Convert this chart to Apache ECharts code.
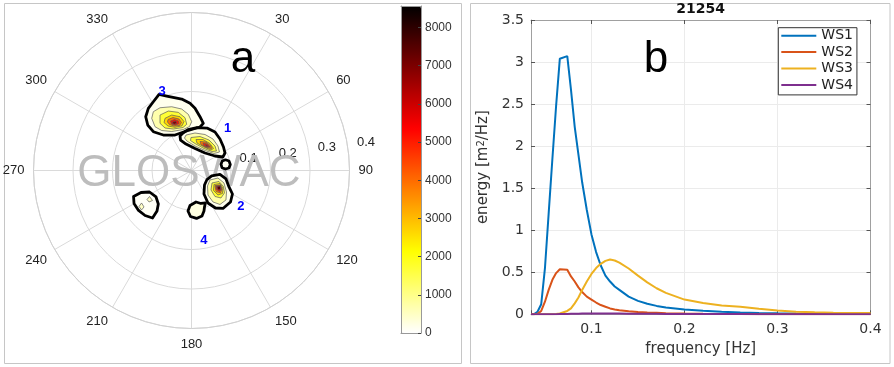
<!DOCTYPE html>
<html><head><meta charset="utf-8">
<script src="https://cdn.jsdelivr.net/npm/echarts@6/dist/echarts.min.js"></script>
<style>html,body{margin:0;padding:0;background:#fff}#c{width:894px;height:367px}</style>
</head><body><div id="c"></div>
<script>
// ---------- panel b : 1-D spectra ----------
const freq = [0.035,0.038,0.042,0.046,0.05,0.054,0.058,0.062,0.066,0.074,0.078,0.082,0.086,0.09,0.095,0.1,0.105,0.11,0.115,0.12,0.125,0.13,0.14,0.15,0.16,0.17,0.18,0.2,0.22,0.24,0.26,0.28,0.3,0.32,0.34,0.36,0.38,0.4];
const ws1 = [0,0,0.03,0.12,0.55,1.2,1.85,2.48,3.04,3.07,2.67,2.23,1.9,1.57,1.24,0.95,0.74,0.58,0.46,0.39,0.33,0.29,0.21,0.16,0.125,0.10,0.08,0.058,0.041,0.03,0.022,0.016,0.012,0.009,0.007,0.005,0.004,0.003];
const ws2 = [0,0,0.005,0.04,0.15,0.29,0.41,0.49,0.535,0.53,0.45,0.39,0.32,0.265,0.21,0.175,0.14,0.11,0.09,0.07,0.058,0.048,0.035,0.027,0.021,0.017,0.013,0.009,0.006,0.004,0.003,0.002,0.002,0.001,0.001,0.001,0.001,0.001];
const ws3 = [0,0,0,0,0,0,0,0.003,0.01,0.04,0.07,0.13,0.2,0.29,0.39,0.48,0.55,0.6,0.635,0.652,0.64,0.615,0.545,0.46,0.38,0.31,0.255,0.175,0.135,0.105,0.09,0.066,0.046,0.031,0.024,0.019,0.016,0.014];
const ws4 = [0,0,0,0,0,0,0.001,0.002,0.003,0.005,0.006,0.007,0.008,0.009,0.01,0.011,0.011,0.011,0.01,0.01,0.009,0.009,0.008,0.007,0.006,0.006,0.005,0.004,0.004,0.003,0.003,0.002,0.002,0.002,0.002,0.001,0.001,0.001];
const seriesNames = ['WS1','WS2','WS3','WS4'];
const seriesColors = ['#0072BD','#D95319','#EDB120','#7E2F8E'];
const buoyId = '21254';

// ---------- panel a : directional spectrum contours (east, north frequency components, Hz) ----------
const sys3Outer = [[-0.0822,0.1928],[-0.0627,0.1885],[-0.0248,0.1809],[-0.0038,0.1700],[0.0089,0.1574],[0.0215,0.1361],[0.0299,0.1194],[0.0215,0.1101],[-0.0038,0.1025],[-0.0164,0.0987],[-0.0417,0.0898],[-0.0713,0.0898],[-0.0966,0.0982],[-0.1108,0.1151],[-0.1159,0.1361],[-0.1093,0.1574],[-0.0966,0.1741]];
const sys3A = [[-0.0966,0.1488],[-0.0797,0.1589],[-0.0501,0.1614],[-0.0248,0.1556],[-0.0081,0.1422],[0.0005,0.1235],[-0.0051,0.1113],[-0.0207,0.1037],[-0.0501,0.0987],[-0.0754,0.1012],[-0.0923,0.1108],[-0.1007,0.1321]];
const sys3B = [[-0.0797,0.1404],[-0.0587,0.1505],[-0.0334,0.1472],[-0.0164,0.1336],[-0.0121,0.1169],[-0.0215,0.1088],[-0.0460,0.1050],[-0.0670,0.1075],[-0.0797,0.1194]];
const sys3C = [[-0.0670,0.1321],[-0.0501,0.1404],[-0.0291,0.1361],[-0.0190,0.1240],[-0.0240,0.1131],[-0.0417,0.1093],[-0.0595,0.1126],[-0.0696,0.1214]];
const sys3D = [[-0.0595,0.1290],[-0.0468,0.1341],[-0.0316,0.1303],[-0.0253,0.1214],[-0.0304,0.1139],[-0.0443,0.1126],[-0.0557,0.1164],[-0.0607,0.1227]];
const sys3E = [[-0.0531,0.1252],[-0.0430,0.1290],[-0.0329,0.1252],[-0.0316,0.1189],[-0.0405,0.1151],[-0.0506,0.1176]];
const sys3F = [[-0.0481,0.1227],[-0.0405,0.1252],[-0.0367,0.1202],[-0.0430,0.1171],[-0.0481,0.1189]];

const sys1Outer = [[-0.0215,0.0949],[-0.0089,0.1037],[0.0139,0.1088],[0.0392,0.1075],[0.0595,0.0974],[0.0721,0.0797],[0.0810,0.0595],[0.0848,0.0443],[0.0797,0.0342],[0.0595,0.0367],[0.0342,0.0443],[0.0089,0.0557],[-0.0139,0.0670],[-0.0278,0.0772],[-0.0291,0.0873]];
const sys1A = [[-0.0139,0.0898],[0.0089,0.0949],[0.0342,0.0911],[0.0544,0.0797],[0.0670,0.0620],[0.0708,0.0468],[0.0569,0.0430],[0.0342,0.0506],[0.0089,0.0620],[-0.0114,0.0746],[-0.0177,0.0822]];
const sys1B = [[-0.0013,0.0835],[0.0215,0.0860],[0.0443,0.0772],[0.0595,0.0620],[0.0633,0.0493],[0.0519,0.0481],[0.0316,0.0557],[0.0089,0.0683],[-0.0025,0.0759]];
const sys1C = [[0.0114,0.0784],[0.0291,0.0784],[0.0468,0.0683],[0.0557,0.0557],[0.0493,0.0519],[0.0316,0.0595],[0.0139,0.0696]];
const sys1D = [[0.0215,0.0734],[0.0367,0.0721],[0.0493,0.0620],[0.0506,0.0557],[0.0367,0.0582],[0.0240,0.0658]];
const sys1E = [[0.0291,0.0696],[0.0405,0.0670],[0.0468,0.0595],[0.0380,0.0595],[0.0304,0.0633]];
const sys1F = [[0.0354,0.0658],[0.0417,0.0633],[0.0430,0.0600],[0.0367,0.0607]];

const sys2Outer = [[0.0511,-0.0139],[0.0721,-0.0101],[0.0873,-0.0215],[0.0949,-0.0417],[0.1037,-0.0595],[0.0987,-0.0797],[0.0797,-0.0961],[0.0607,-0.0949],[0.0417,-0.0822],[0.0316,-0.0595],[0.0329,-0.0367],[0.0392,-0.0228]];
const sys2A = [[0.0468,-0.0240],[0.0670,-0.0190],[0.0822,-0.0316],[0.0886,-0.0544],[0.0873,-0.0746],[0.0721,-0.0860],[0.0544,-0.0797],[0.0417,-0.0620],[0.0405,-0.0392]];
const sys2B = [[0.0519,-0.0316],[0.0696,-0.0278],[0.0810,-0.0405],[0.0835,-0.0569],[0.0746,-0.0696],[0.0595,-0.0658],[0.0493,-0.0493]];
const sys2C = [[0.0569,-0.0354],[0.0721,-0.0329],[0.0797,-0.0443],[0.0784,-0.0582],[0.0670,-0.0620],[0.0557,-0.0506]];
const sys2D = [[0.0595,-0.0380],[0.0734,-0.0367],[0.0772,-0.0481],[0.0734,-0.0569],[0.0620,-0.0531]];
const sys2E = [[0.0620,-0.0392],[0.0734,-0.0380],[0.0759,-0.0481],[0.0708,-0.0531],[0.0633,-0.0481]];
const sys2F = [[0.0645,-0.0405],[0.0734,-0.0392],[0.0734,-0.0481],[0.0683,-0.0493],[0.0658,-0.0455]];

const bubble = [[0.0114,-0.0797],[0.0240,-0.0835],[0.0354,-0.0822],[0.0329,-0.0923],[0.0316,-0.1025],[0.0266,-0.1151],[0.0127,-0.1214],[-0.0025,-0.1164],[-0.0089,-0.1025],[-0.0038,-0.0886]];
const ring = [[0.0860,0.0271],[0.0949,0.0240],[0.0982,0.0152],[0.0949,0.0063],[0.0860,0.0038],[0.0772,0.0071],[0.0746,0.0159],[0.0779,0.0240]];
const sys5Outer = [[-0.1467,-0.0658],[-0.1278,-0.0557],[-0.1063,-0.0544],[-0.0898,-0.0670],[-0.0840,-0.0848],[-0.0873,-0.1025],[-0.0987,-0.1202],[-0.1176,-0.1139],[-0.1341,-0.1012],[-0.1455,-0.0835]];
const sys5A = [[-0.1265,-0.0822],[-0.1202,-0.0923],[-0.1265,-0.0999],[-0.1328,-0.0911]];
const sys5B = [[-0.1063,-0.0658],[-0.0987,-0.0759],[-0.1075,-0.0797],[-0.1126,-0.0734]];

// contour polygons with their energy level
const fills = [
  [sys3Outer,150],[sys3A,700],[sys3B,1700],[sys3C,2700],[sys3D,3900],[sys3E,5200],[sys3F,6800],
  [sys1Outer,150],[sys1A,700],[sys1B,1700],[sys1C,2700],[sys1D,3900],[sys1E,5000],[sys1F,6300],
  [sys2Outer,150],[sys2A,700],[sys2B,1700],[sys2C,2700],[sys2D,3900],[sys2E,5200],[sys2F,7400],
  [bubble,250],[ring,100],[sys5Outer,80],[sys5A,500],[sys5B,500]
];
const outerIdx = [0,7,14,21,22,23];
const outlines = [sys3Outer, sys1Outer, sys2Outer, bubble, ring, sys5Outer];
const sysLabels = [['1',0.0916,0.1068],['2',0.1252,-0.0898],['3',-0.0746,0.1994],['4',0.0316,-0.1758]];
const cbMax = 8560;
const hotRev = ['#ffffff','#ffff80','#ffff00','#ffaa00','#ff5500','#ff0000','#aa0000','#550000','#000000'];

const chart = echarts.init(document.getElementById('c'));
const pair = arr => freq.map((f,i)=>[f, arr[i]]);
const allWS = [ws1, ws2, ws3, ws4];
const thinAxis = {show:true,onZero:false,lineStyle:{color:'#a0a0a0',width:1}};
const dvs = 'DejaVu Sans';

const option = {
  animation:false,
  textStyle:{fontFamily:'Liberation Sans'},
  polar:[{center:[191.5,170.5],radius:158},{center:[191.5,170.5],radius:158}],
  angleAxis:[
    {polarIndex:0,type:'value',min:0,max:360,interval:30,startAngle:90,clockwise:true,
     axisLine:{lineStyle:{color:'#d0d0d0',width:1}},axisTick:{show:false},
     splitLine:{lineStyle:{color:'#dadada',width:1}},
     axisLabel:{margin:9,fontSize:13,color:'#222',fontFamily:'Liberation Sans',formatter:v=>(v%360===0?'':String(v))}},
    {polarIndex:1,type:'value',min:0,max:360,startAngle:8,show:false}
  ],
  radiusAxis:[
    {polarIndex:0,type:'value',min:0,max:0.4,interval:0.1,axisLine:{show:false},axisTick:{show:false},axisLabel:{show:false},
     splitLine:{show:true,lineStyle:{color:'#dadada',width:1}}},
    {polarIndex:1,type:'value',min:0,max:0.4,interval:0.1,axisLine:{show:false},axisTick:{show:false},splitLine:{show:false},
     axisLabel:{margin:0,align:'left',verticalAlign:'bottom',padding:[0,0,0,9],fontSize:13,color:'#222',fontFamily:'Liberation Sans',
       formatter:v=>(v===0?'':v.toFixed(1))}}
  ],
  grid:[
    {left:531,right:23.5,top:20,bottom:52.7,show:false},
    {left:33.5,top:12.5,width:316,height:316,show:false},
    {left:401,top:6,width:20,height:327,show:false}
  ],
  xAxis:[
    {gridIndex:0,type:'value',min:0.035,max:0.4,splitNumber:5,axisLine:thinAxis,
     axisTick:{inside:true,length:4,lineStyle:{color:'#555'}},
     axisLabel:{fontSize:14,color:'#333',margin:8,fontFamily:dvs,formatter:v=>(v<0.05?'':String(+v.toFixed(2)))},
     splitLine:{show:true,lineStyle:{color:'#ebebeb'}},
     name:'frequency [Hz]',nameLocation:'middle',nameGap:25,nameTextStyle:{fontSize:15,color:'#333',fontFamily:dvs}},
    {gridIndex:0,type:'value',position:'top',min:0.035,max:0.4,splitNumber:5,axisLine:thinAxis,
     axisTick:{inside:true,length:4,lineStyle:{color:'#555'}},axisLabel:{show:false},splitLine:{show:false}},
    {gridIndex:1,type:'value',min:-0.4,max:0.4,show:false},
    {gridIndex:2,type:'value',min:0,max:1,z:10,axisLine:{show:true,onZero:false,lineStyle:{color:'#999'}},axisTick:{show:false},axisLabel:{show:false},splitLine:{show:false}},
    {gridIndex:2,type:'value',position:'top',min:0,max:1,z:10,axisLine:{show:true,onZero:false,lineStyle:{color:'#999'}},axisTick:{show:false},axisLabel:{show:false},splitLine:{show:false}}
  ],
  yAxis:[
    {gridIndex:0,type:'value',min:0,max:3.5,interval:0.5,axisLine:thinAxis,
     axisTick:{inside:true,length:4,lineStyle:{color:'#555'}},
     axisLabel:{fontSize:14,color:'#333',margin:7,fontFamily:dvs},
     splitLine:{show:true,lineStyle:{color:'#ebebeb'}},
     name:'energy [m{sup|2}/Hz]',nameLocation:'middle',nameGap:40,
     nameTextStyle:{fontSize:15,color:'#333',fontFamily:dvs,rich:{sup:{fontSize:10,verticalAlign:'top',fontFamily:dvs,color:'#333'}}}},
    {gridIndex:0,type:'value',position:'right',min:0,max:3.5,interval:0.5,axisLine:thinAxis,
     axisTick:{inside:true,length:4,lineStyle:{color:'#555'}},axisLabel:{show:false},splitLine:{show:false}},
    {gridIndex:1,type:'value',min:-0.4,max:0.4,show:false},
    {gridIndex:2,type:'value',position:'right',min:0,max:cbMax,interval:1000,z:10,
     axisLine:{show:true,onZero:false,lineStyle:{color:'#999'}},
     axisTick:{inside:true,length:3,lineStyle:{color:'#444'}},
     axisLabel:{margin:4,fontSize:12,color:'#333',showMaxLabel:false,formatter:v=>(v>8000?'':String(v))},splitLine:{show:false}},
    {gridIndex:2,type:'value',position:'left',min:0,max:cbMax,z:10,
     axisLine:{show:true,onZero:false,lineStyle:{color:'#999'}},axisTick:{show:false},axisLabel:{show:false},splitLine:{show:false}}
  ],
  visualMap:{type:'continuous',min:0,max:cbMax,seriesIndex:4,dimension:1,orient:'vertical',
    left:401,top:6,itemWidth:20,itemHeight:327,padding:0,calculable:false,hoverLink:false,
    inRange:{color:hotRev}},
  legend:{data:seriesNames,orient:'vertical',left:778.3,top:27.7,icon:'rect',itemWidth:35,itemHeight:2,itemGap:2.4,
    padding:[1,4,3,3],borderColor:'#333',borderWidth:1,backgroundColor:'#fff',
    textStyle:{fontSize:14,color:'#222',fontFamily:dvs,lineHeight:14}},
  graphic:[
    {type:'rect',silent:true,z:0,shape:{x:4.5,y:3.5,width:457,height:360},style:{fill:'none',stroke:'#c6c6c6',lineWidth:1}},
    {type:'rect',silent:true,z:0,shape:{x:470.5,y:3.5,width:419.5,height:360},style:{fill:'none',stroke:'#c6c6c6',lineWidth:1}},
    {type:'text',silent:true,z:1,x:189,y:173.5,style:{text:'GLOSWAC',font:'44px "Liberation Sans"',fill:'#bdbdbd',align:'center',verticalAlign:'middle'}},
    {type:'text',silent:true,z:6,x:243,y:59.8,style:{text:'a',font:'44px "Liberation Sans"',fill:'#000',align:'center',verticalAlign:'middle'}},
    {type:'text',silent:true,z:6,x:656,y:59.5,style:{text:'b',font:'44px "Liberation Sans"',fill:'#000',align:'center',verticalAlign:'middle'}},
    {type:'text',silent:true,z:6,x:700.7,y:9.8,style:{text:buoyId,font:'bold 14px "DejaVu Sans"',fill:'#111',align:'center',verticalAlign:'middle'}}
  ],
  series:[
    ...seriesNames.map((n,k)=>({type:'line',name:n,xAxisIndex:0,yAxisIndex:0,data:pair(allWS[k]),
      showSymbol:false,symbol:'none',lineStyle:{width:2,color:seriesColors[k]},itemStyle:{color:seriesColors[k]},z:3})),
    {type:'custom',name:'levels',xAxisIndex:2,yAxisIndex:2,z:3,
      data:fills.map((f,i)=>[i,f[1]]),
      renderItem:(params,api)=>{
        const id = api.value(0);
        const pts = fills[id][0].map(p=>api.coord(p));
        const outer = outerIdx.indexOf(id)>=0;
        return {type:'polygon',shape:{points:pts},
          style:{fill:api.visual('color'),stroke:outer?null:'#5a5a5a',lineWidth:outer?0:0.7}};
      }},
    {type:'custom',name:'partitions',xAxisIndex:2,yAxisIndex:2,z:4,
      data:outlines.map((o,i)=>[i,0]),
      renderItem:(params,api)=>{
        const pts = outlines[api.value(0)].map(p=>api.coord(p));
        return {type:'polygon',shape:{points:pts},style:{fill:'none',stroke:'#000',lineWidth:2.8,lineJoin:'round'}};
      }},
    {type:'scatter',xAxisIndex:2,yAxisIndex:2,z:5,symbolSize:1,itemStyle:{color:'rgba(0,0,0,0)'},
      data:sysLabels.map(l=>({name:l[0],value:[l[1],l[2]]})),
      label:{show:true,position:'inside',formatter:'{b}',color:'#0000ff',fontWeight:'bold',fontSize:13,
        fontFamily:'Liberation Sans',textBorderWidth:0,textBorderColor:'transparent',opacity:1}}
  ]
};
chart.setOption(option);
</script></body></html>
